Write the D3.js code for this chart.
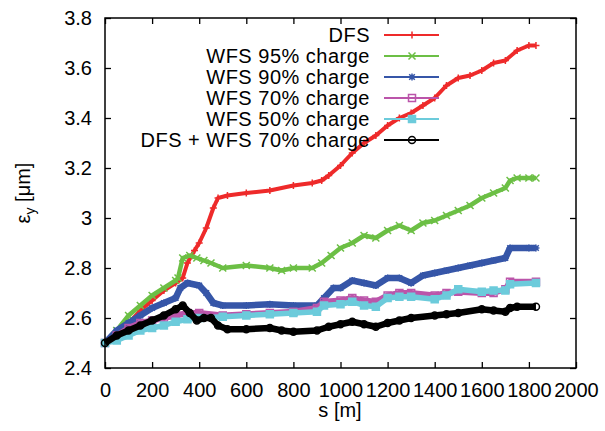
<!DOCTYPE html>
<meta charset="utf-8">
<style>
  body { margin: 0; background: #fff; }
  text { font-family: "Liberation Sans", Arial, Helvetica, sans-serif; }
</style>
<body>
<script src="https://d3js.org/d3.v7.min.js"></script>
<script>

var width = 605,
    height = 431;

// tick values / labels
var xTicks = [0, 200, 400, 600, 800, 1000, 1200, 1400, 1600, 1800, 2000];
var yTicks = [2.4, 2.6, 2.8, 3.0, 3.2, 3.4, 3.6, 3.8];
var yTickLabels = ["2.4", "2.6", "2.8", "3", "3.2", "3.4", "3.6", "3.8"];

// series: [s (m), emittance (um)]
var dfs = [[0,2.50],[50,2.55],[100,2.58],[150,2.63],[200,2.67],[250,2.71],[300,2.74],[330,2.76],
  [350,2.82],[380,2.87],[400,2.90],[430,2.96],[460,3.04],[480,3.08],[520,3.09],[600,3.10],
  [700,3.11],[800,3.13],[880,3.14],[920,3.15],[950,3.17],[1000,3.21],[1050,3.26],[1100,3.30],
  [1150,3.33],[1200,3.37],[1250,3.40],[1300,3.42],[1350,3.45],[1400,3.48],[1450,3.53],
  [1500,3.56],[1550,3.57],[1600,3.59],[1650,3.62],[1700,3.63],[1750,3.67],[1800,3.69],[1830,3.69]];
var wfs95 = [[0,2.50],[50,2.55],[100,2.61],[150,2.65],[200,2.69],[250,2.72],[300,2.75],[310,2.76],
  [330,2.84],[360,2.85],[390,2.84],[420,2.83],[450,2.82],[500,2.80],[600,2.81],[700,2.80],
  [750,2.79],[800,2.80],[880,2.80],[920,2.82],[960,2.85],[1000,2.88],[1050,2.90],[1100,2.93],
  [1150,2.92],[1200,2.95],[1250,2.97],[1300,2.95],[1350,2.98],[1400,2.99],[1450,3.01],
  [1500,3.03],[1550,3.05],[1600,3.08],[1650,3.10],[1700,3.12],[1720,3.15],[1750,3.16],
  [1800,3.16],[1830,3.16]];
var wfs90 = [[0,2.50],[50,2.55],[100,2.58],[150,2.61],[200,2.64],[250,2.66],[300,2.68],[320,2.72],
  [350,2.74],[400,2.73],[430,2.70],[460,2.66],[500,2.65],[600,2.65],[700,2.655],[800,2.65],
  [900,2.65],[930,2.68],[970,2.72],[1000,2.72],[1050,2.75],[1100,2.74],[1150,2.73],[1200,2.76],
  [1250,2.76],[1300,2.74],[1350,2.77],[1400,2.78],[1450,2.79],[1500,2.80],[1550,2.81],
  [1600,2.82],[1650,2.83],[1700,2.84],[1720,2.88],[1800,2.88],[1830,2.88]];
var wfs70 = [[0,2.50],[50,2.53],[100,2.56],[150,2.58],[200,2.59],[250,2.60],[300,2.61],[350,2.62],
  [400,2.62],[500,2.61],[600,2.615],[700,2.62],[800,2.625],[900,2.64],[930,2.665],[1000,2.67],
  [1050,2.68],[1100,2.67],[1150,2.665],[1200,2.69],[1250,2.70],[1300,2.70],[1400,2.69],
  [1450,2.70],[1500,2.705],[1600,2.70],[1650,2.70],[1700,2.715],[1720,2.745],[1830,2.745]];
var wfs50 = [[0,2.50],[50,2.51],[100,2.53],[150,2.55],[200,2.56],[250,2.57],[300,2.585],[350,2.595],
  [400,2.60],[500,2.605],[600,2.61],[700,2.615],[800,2.62],[900,2.625],[930,2.65],[1000,2.655],
  [1050,2.665],[1100,2.65],[1150,2.645],[1200,2.68],[1250,2.685],[1300,2.685],[1400,2.675],
  [1450,2.69],[1500,2.715],[1600,2.705],[1650,2.71],[1700,2.71],[1720,2.735],[1830,2.74]];
var dfsWfs70 = [[0,2.50],[50,2.53],[100,2.55],[150,2.57],[200,2.59],[250,2.61],[300,2.635],[330,2.65],
  [360,2.62],[390,2.59],[420,2.60],[450,2.60],[480,2.57],[520,2.555],[600,2.555],[700,2.56],
  [750,2.55],[800,2.545],[900,2.55],[950,2.565],[1000,2.575],[1050,2.585],[1100,2.575],
  [1150,2.565],[1200,2.58],[1250,2.59],[1300,2.60],[1400,2.61],[1450,2.615],[1500,2.62],
  [1600,2.635],[1650,2.63],[1700,2.625],[1720,2.64],[1750,2.645],[1830,2.645]];

var seriesNames = ["DFS", "WFS 95% charge", "WFS 90% charge", "WFS 70% charge",
                   "WFS 50% charge", "DFS + WFS 70% charge"];

var series = [
  {data: dfs,      color: "#ee2a2a", band: 4, mark: "plus"},
  {data: wfs95,    color: "#6cbf45", band: 4.5, mark: "cross"},
  {data: wfs90,    color: "#3656a8", band: 6.5, mark: "star"},
  {data: wfs70,    color: "#bb55aa", band: 6, mark: "box"},
  {data: wfs50,    color: "#6ccbdb", band: 5.5, mark: "fbox"},
  {data: dfsWfs70, color: "#000000", band: 6.5, mark: "circle"}
];

var x = d3.scaleLinear().domain([0, 2000]).range([105, 576]),
    y = d3.scaleLinear().domain([2.4, 3.8]).range([368, 18]);

var svg = d3.select("body").append("svg")
    .attr("width", width)
    .attr("height", height);

function markPath(type, s) {
  if (type == "plus") return "M" + (-s) + ",0H" + s + "M0," + (-s) + "V" + s;
  if (type == "cross") return "M" + (-s) + "," + (-s) + "L" + s + "," + s + "M" + (-s) + "," + s + "L" + s + "," + (-s);
  if (type == "star") return markPath("plus", s) + markPath("cross", s * 0.8);
  if (type == "box" || type == "fbox") return "M" + (-s) + "," + (-s) + "H" + s + "V" + s + "H" + (-s) + "Z";
  return "M" + s + ",0A" + s + "," + s + " 0 1,1 " + (-s) + ",0A" + s + "," + s + " 0 1,1 " + s + ",0Z";
}

var line = d3.line()
    .x(function(d) { return x(d[0]); })
    .y(function(d) { return y(d[1]); });

var plot = svg.append("g");

series.forEach(function(sr) {
  var g = plot.append("g");
  g.append("path")
      .attr("d", line(sr.data))
      .attr("fill", "none")
      .attr("stroke", sr.color)
      .attr("stroke-width", sr.band)
      .attr("stroke-linejoin", "round");
  g.selectAll("path.mk")
      .data(sr.data)
    .enter().append("path")
      .attr("class", "mk")
      .attr("transform", function(d) { return "translate(" + x(d[0]) + "," + y(d[1]) + ")"; })
      .attr("d", markPath(sr.mark, 3.5))
      .attr("fill", sr.mark == "fbox" ? sr.color : "none")
      .attr("stroke", sr.color)
      .attr("stroke-width", 1.5);
});

// axes
var fontSize = 20;
svg.append("g")
    .attr("transform", "translate(0,368)")
    .call(d3.axisBottom(x).tickValues(xTicks).tickFormat(d3.format("d"))
      .tickSizeInner(-6).tickSizeOuter(0).tickPadding(15));
svg.append("g")
    .attr("transform", "translate(105,0)")
    .call(d3.axisLeft(y).tickValues(yTicks)
      .tickFormat(function(d, i) { return yTickLabels[i]; })
      .tickSizeInner(-6).tickSizeOuter(0).tickPadding(13));
svg.append("g")
    .attr("transform", "translate(0,18)")
    .call(d3.axisTop(x).tickValues(xTicks).tickFormat("").tickSizeInner(-6).tickSizeOuter(0));
svg.append("g")
    .attr("transform", "translate(576,0)")
    .call(d3.axisRight(y).tickValues(yTicks).tickFormat("").tickSizeInner(-6).tickSizeOuter(0));

svg.selectAll(".domain").remove();
svg.selectAll(".tick line").attr("stroke", "#000").attr("stroke-width", 1.3);
svg.selectAll(".tick text")
    .attr("fill", "#000")
    .style("font-size", fontSize + "px")
    .style("font-family", "'Liberation Sans', Arial, Helvetica, sans-serif");

svg.append("rect")
    .attr("x", 105).attr("y", 18)
    .attr("width", 471).attr("height", 350)
    .attr("fill", "none")
    .attr("stroke", "#000")
    .attr("stroke-width", 1.5);

// axis titles
svg.append("text")
    .attr("x", 340).attr("y", 417)
    .attr("text-anchor", "middle")
    .style("font-size", fontSize + "px")
    .text("s [m]");

var yl = svg.append("text")
    .attr("transform", "translate(30,193) rotate(-90)")
    .attr("text-anchor", "middle")
    .style("font-size", fontSize + "px");
yl.append("tspan").text("ε");
yl.append("tspan").attr("dy", 5).style("font-size", "14px").text("y");
yl.append("tspan").attr("dy", -5).text(" [μm]");

// legend
var legend = svg.append("g");
seriesNames.forEach(function(name, i) {
  var ly = 35 + i * 21,
      sr = series[i];
  legend.append("text")
      .attr("x", 370).attr("y", ly)
      .attr("dy", "0.36em")
      .attr("text-anchor", "end")
      .style("font-size", fontSize + "px")
      .style("letter-spacing", "0.5px")
      .text(name);
  legend.append("line")
      .attr("x1", 384).attr("x2", 439)
      .attr("y1", ly).attr("y2", ly)
      .attr("stroke", sr.color)
      .attr("stroke-width", 2);
  legend.append("path")
      .attr("transform", "translate(412," + ly + ")")
      .attr("d", markPath(sr.mark, 3.5))
      .attr("fill", sr.mark == "fbox" ? sr.color : "none")
      .attr("stroke", sr.color)
      .attr("stroke-width", 1.5);
});

</script>
</body>
